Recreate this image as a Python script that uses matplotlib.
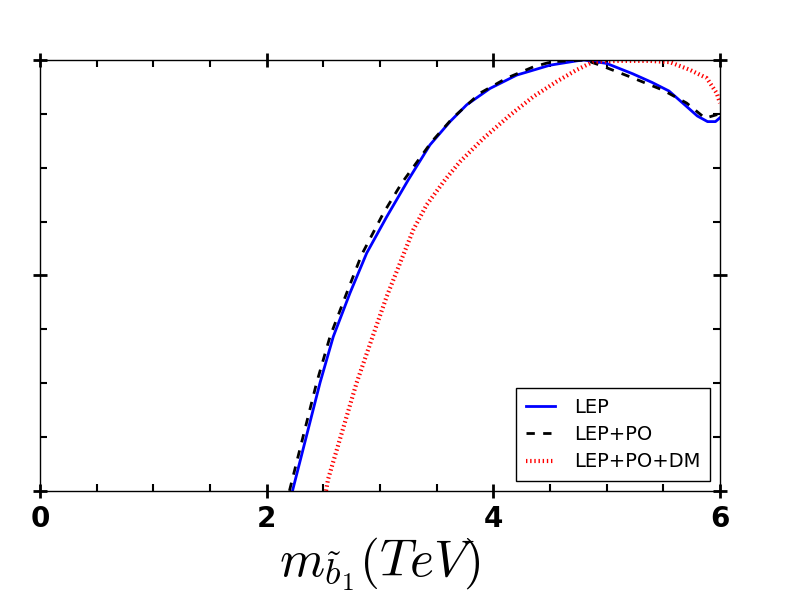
import matplotlib
matplotlib.use("Agg")
import matplotlib.pyplot as plt
from matplotlib.ticker import MultipleLocator

plt.rcParams['mathtext.fontset'] = 'cm'
plt.rcParams['font.family'] = ['DejaVu Sans']

# LEP (blue solid)
lep_x = [2.228, 2.471, 2.588, 2.735, 2.883, 3.059, 3.250, 3.441, 3.618, 3.765,
         3.971, 4.206, 4.500, 4.736, 4.800, 5.000, 5.230, 5.400, 5.550, 5.680,
         5.800, 5.890, 5.960, 6.000]
lep_y = [0.000, 0.251, 0.358, 0.459, 0.552, 0.636, 0.722, 0.803, 0.857, 0.896,
         0.934, 0.965, 0.988, 0.998, 1.000, 0.992, 0.968, 0.948, 0.928, 0.898,
         0.870, 0.857, 0.857, 0.866]

# LEP+PO (black dashed)
lpo_x = [2.201, 2.441, 2.559, 2.706, 2.838, 3.029, 3.191, 3.455, 3.640, 3.882,
         4.118, 4.353, 4.515, 4.809, 4.941, 5.206, 5.497, 5.706, 5.868, 5.971,
         6.000]
lpo_y = [0.000, 0.251, 0.358, 0.459, 0.548, 0.644, 0.714, 0.810, 0.865, 0.923,
         0.958, 0.984, 0.996, 1.000, 0.988, 0.961, 0.930, 0.900, 0.865, 0.873,
         0.873]

# LEP+PO+DM (red dotted)
dm_x = [2.524, 2.541, 2.794, 2.935, 3.059, 3.176, 3.294, 3.412, 3.574, 3.706,
        3.912, 4.147, 4.353, 4.559, 4.735, 4.882, 5.118, 5.382, 5.559, 5.735,
        5.883, 5.971, 6.000]
dm_y = [0.000, 0.026, 0.251, 0.358, 0.451, 0.528, 0.606, 0.664, 0.722, 0.764,
        0.818, 0.872, 0.915, 0.950, 0.977, 0.996, 0.998, 0.998, 0.995, 0.977,
        0.958, 0.923, 0.900]

labels = ['LEP', 'LEP+PO', 'LEP+PO+DM']

fig = plt.figure(figsize=(8, 6), dpi=100)
ax = fig.add_axes([0.05, 0.182, 0.85, 0.718])

ax.plot(lep_x, lep_y, color='blue', lw=2, ls='-', label=labels[0])
ax.plot(lpo_x, lpo_y, color='black', lw=2, ls=(0, (3, 3)), label=labels[1])
ax.plot(dm_x, dm_y, color='red', lw=3, ls=(0, (0.33, 0.67)), dash_capstyle='butt',
        label=labels[2])

ax.set_xlim(0, 6)
ax.set_ylim(0, 1)
ax.xaxis.set_major_locator(MultipleLocator(2))
ax.xaxis.set_minor_locator(MultipleLocator(0.5))
ax.yaxis.set_major_locator(MultipleLocator(0.5))
ax.yaxis.set_minor_locator(MultipleLocator(0.125))
ax.tick_params(which='major', direction='inout', length=10, width=2,
               top=True, right=True, labelsize=20, pad=5)
ax.tick_params(which='minor', direction='in', length=5, width=1.5,
               top=True, right=True)
ax.tick_params(axis='y', labelleft=False)
for lab in ax.get_xticklabels():
    lab.set_fontweight('bold')
for s in ax.spines.values():
    s.set_linewidth(1)

ax.set_xlabel(r'$m_{\tilde{b}_1}(TeV)$', fontsize=37, labelpad=2)

leg = ax.legend(loc='lower right', fontsize=14, fancybox=False, framealpha=1,
                edgecolor='black', handlelength=1.5, labelspacing=0.42,
                handletextpad=1.0, borderpad=0.5)
leg.get_frame().set_linewidth(1)

fig.savefig('out.png', dpi=100)
